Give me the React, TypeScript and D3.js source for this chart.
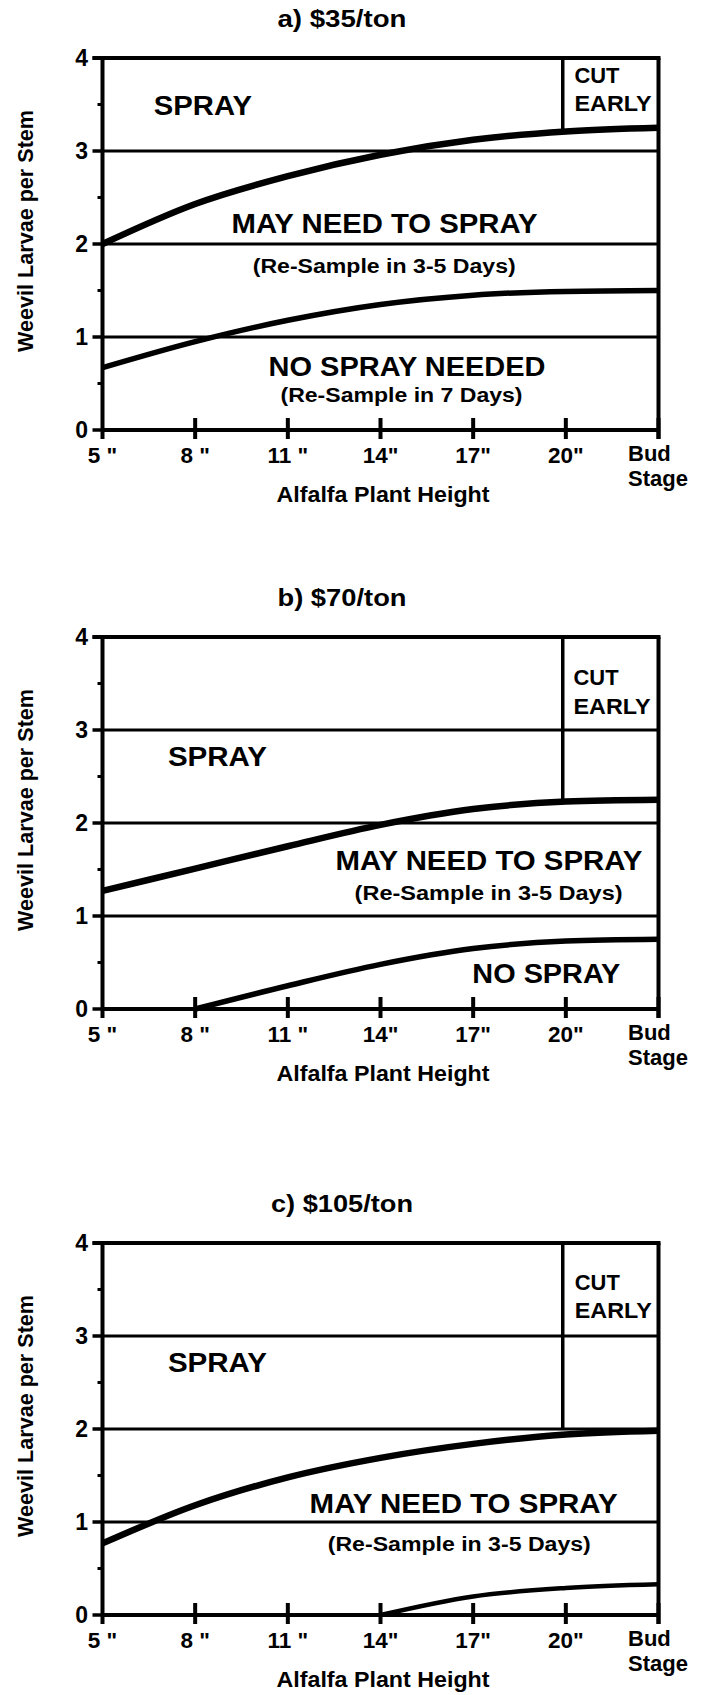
import React from 'react';
import * as d3 from 'd3';

// ---------- data ----------
const heightTicks = [5, 8, 11, 14, 17, 20, 23];
const heightTickLabels = ['5 "', '8 "', '11 "', '14"', '17"', '20"'];
const budLabelLines = ['Bud', 'Stage'];
const larvaeTicks = [0, 1, 2, 3, 4];
const larvaeMinorTicks = [0.5, 1.5, 2.5, 3.5];
const thresholdLines = [1, 2, 3];
const panelTitles = ['a) $35/ton', 'b) $70/ton', 'c) $105/ton'];
const xAxisTitle = 'Alfalfa Plant Height';
const yAxisTitle = 'Weevil Larvae per Stem';

// [plant height (inches, 23 = bud stage), larvae per stem]
const upperA: [number, number][] = [[5, 2.0], [8, 2.43], [11, 2.73], [14, 2.96], [17, 3.12], [20, 3.21], [23, 3.25]];
const lowerA: [number, number][] = [[5, 0.67], [8, 0.95], [11, 1.18], [14, 1.35], [17, 1.45], [20, 1.49], [23, 1.5]];
const upperB: [number, number][] = [[5, 1.27], [8, 1.51], [11, 1.75], [14, 1.98], [17, 2.15], [20, 2.23], [23, 2.25]];
const lowerB: [number, number][] = [[8, 0], [11, 0.25], [14, 0.48], [17, 0.65], [20, 0.73], [23, 0.75]];
const upperC: [number, number][] = [[5, 0.77], [8, 1.18], [11, 1.48], [14, 1.69], [17, 1.84], [20, 1.94], [23, 1.98]];
const lowerC: [number, number][] = [[14, 0], [17, 0.2], [20, 0.29], [23, 0.33]];

const upperCurves = [upperA, upperB, upperC];
const lowerCurves = [lowerA, lowerB, lowerC];
const cutEarlyHeight = 19.9;
const cutEarlyBottoms = [3.21, 2.24, 2.0];

// ---------- layout ----------
const W = 706;
const H = 1695;
const X_LEFT = 102.5;
const X_RIGHT = 658.5;
const PANEL_TOPS = [58, 637, 1243];
const PLOT_H = 372;
const FONT = '"Liberation Sans", Arial, Helvetica, sans-serif';

type Lbl = { t: string; x: number; y: number; s: number; w: number; a?: 'start' | 'middle' | 'end' };
const panelLabels: Lbl[][] = [
  [
    { t: 'SPRAY', x: 8.25, y: 3.387, s: 27, w: 98 },
    { t: 'CUT', x: 20.28, y: 3.73, s: 21.5, w: 45, a: 'start' },
    { t: 'EARLY', x: 20.28, y: 3.43, s: 21.5, w: 77, a: 'start' },
    { t: 'MAY NEED TO SPRAY', x: 14.13, y: 2.12, s: 27, w: 306 },
    { t: '(Re-Sample in 3-5 Days)', x: 14.12, y: 1.69, s: 20, w: 263 },
    { t: 'NO SPRAY NEEDED', x: 14.86, y: 0.58, s: 27, w: 277 },
    { t: '(Re-Sample in 7 Days)', x: 14.68, y: 0.3, s: 20, w: 242 },
  ],
  [
    { t: 'SPRAY', x: 8.72, y: 2.61, s: 27, w: 99 },
    { t: 'CUT', x: 20.25, y: 3.48, s: 21.5, w: 45, a: 'start' },
    { t: 'EARLY', x: 20.25, y: 3.175, s: 21.5, w: 77, a: 'start' },
    { t: 'MAY NEED TO SPRAY', x: 17.51, y: 1.5, s: 27, w: 307 },
    { t: '(Re-Sample in 3-5 Days)', x: 17.5, y: 1.176, s: 20, w: 268 },
    { t: 'NO SPRAY', x: 19.37, y: 0.276, s: 27, w: 148 },
  ],
  [
    { t: 'SPRAY', x: 8.72, y: 2.616, s: 27, w: 99 },
    { t: 'CUT', x: 20.29, y: 3.495, s: 21.5, w: 45, a: 'start' },
    { t: 'EARLY', x: 20.29, y: 3.19, s: 21.5, w: 77, a: 'start' },
    { t: 'MAY NEED TO SPRAY', x: 16.69, y: 1.097, s: 27, w: 308 },
    { t: '(Re-Sample in 3-5 Days)', x: 16.55, y: 0.683, s: 20, w: 263 },
  ],
];

const xScale = d3.scaleLinear().domain([5, 23]).range([X_LEFT, X_RIGHT]);

function Panel({ idx }: { idx: number }) {
  const top = PANEL_TOPS[idx];
  const y = d3.scaleLinear().domain([0, 4]).range([top + PLOT_H, top]);
  const y0 = y(0);
  const line = d3
    .line<[number, number]>()
    .x((d) => xScale(d[0]))
    .y((d) => y(d[1]))
    .curve(d3.curveMonotoneX);

  return (
    <g>
      {/* title */}
      <text x={342} y={top - 31} fontSize={24} fontWeight="bold" textAnchor="middle"
        textLength={idx === 2 ? 142 : 129} lengthAdjust="spacingAndGlyphs">{panelTitles[idx]}</text>

      {/* threshold lines */}
      {thresholdLines.map((v) => (
        <line key={'t' + v} x1={X_LEFT} x2={X_RIGHT} y1={y(v)} y2={y(v)} stroke="#000" strokeWidth={3} />
      ))}
      {/* top border with tick */}
      <line x1={X_LEFT - 10} x2={X_RIGHT + 2} y1={y(4)} y2={y(4)} stroke="#000" strokeWidth={4} />
      {/* right border */}
      <line x1={X_RIGHT} x2={X_RIGHT} y1={y(4)} y2={y0 + 9} stroke="#000" strokeWidth={4} />
      {/* cut early divider */}
      <line x1={xScale(cutEarlyHeight)} x2={xScale(cutEarlyHeight)} y1={y(4)} y2={y(cutEarlyBottoms[idx])}
        stroke="#000" strokeWidth={3.5} />

      {/* curves */}
      <path d={line(upperCurves[idx]) || ''} fill="none" stroke="#000" strokeWidth={6.5} />
      <path d={line(lowerCurves[idx]) || ''} fill="none" stroke="#000" strokeWidth={idx === 2 ? 4.5 : 5.5} />

      {/* y axis */}
      <line x1={X_LEFT} x2={X_LEFT} y1={y(4) - 2} y2={y0 + 9} stroke="#000" strokeWidth={4} />
      {larvaeTicks.map((v) => (
        <g key={'y' + v}>
          <line x1={X_LEFT - 10} x2={X_LEFT} y1={y(v)} y2={y(v)} stroke="#000" strokeWidth={3.5} />
          <text x={88} y={y(v)} dy="0.36em" fontSize={23} fontWeight="bold" textAnchor="end">{v}</text>
        </g>
      ))}
      {larvaeMinorTicks.map((v) => (
        <line key={'m' + v} x1={X_LEFT - 5} x2={X_LEFT} y1={y(v)} y2={y(v)} stroke="#000" strokeWidth={3} />
      ))}

      {/* x axis */}
      <line x1={X_LEFT} x2={X_RIGHT} y1={y0} y2={y0} stroke="#000" strokeWidth={4} />
      {heightTicks.slice(1).map((v) => (
        <line key={'x' + v} x1={xScale(v)} x2={xScale(v)} y1={y0 - 12} y2={y0 + 9} stroke="#000" strokeWidth={4} />
      ))}
      {heightTickLabels.map((lab, i) => (
        <text key={'xl' + i} x={xScale(heightTicks[i])} y={y0 + 33} fontSize={22.5} fontWeight="bold" textAnchor="middle">
          {lab}
        </text>
      ))}
      {budLabelLines.map((lab, i) => (
        <text key={'bud' + i} x={628} y={y0 + 31 + i * 25} fontSize={22} fontWeight="bold" textAnchor="start">
          {lab}
        </text>
      ))}

      {/* axis titles */}
      <text x={383} y={y0 + 72} fontSize={22} fontWeight="bold" textAnchor="middle"
        textLength={213} lengthAdjust="spacingAndGlyphs">{xAxisTitle}</text>
      <text transform={`translate(25, ${y(2.14)}) rotate(-90)`} dy="0.36em" fontSize={21.5} fontWeight="bold"
        textAnchor="middle" textLength={242} lengthAdjust="spacingAndGlyphs">{yAxisTitle}</text>

      {/* region labels */}
      {panelLabels[idx].map((l, i) => (
        <text key={'l' + i} x={xScale(l.x)} y={y(l.y)} fontSize={l.s} fontWeight="bold"
          textAnchor={l.a || 'middle'} textLength={l.w} lengthAdjust="spacingAndGlyphs">
          {l.t}
        </text>
      ))}
    </g>
  );
}

export default function App() {
  return (
    <svg width={W} height={H} viewBox={`0 0 ${W} ${H}`}
      style={{ position: 'absolute', left: 0, top: 0, display: 'block', background: '#fff' }}
      fontFamily={FONT} fill="#000">
      <rect x={0} y={0} width={W} height={H} fill="#fff" />
      {[0, 1, 2].map((i) => (
        <Panel key={i} idx={i} />
      ))}
    </svg>
  );
}
